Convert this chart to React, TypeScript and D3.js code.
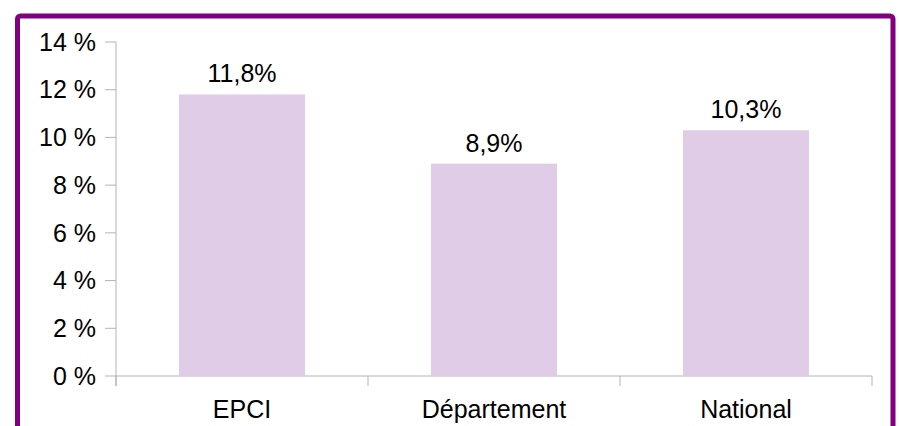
import * as d3 from "d3";
import { useEffect, useRef } from "react";

const categories = ["EPCI", "Département", "National"];
const values = [11.8, 8.9, 10.3];
const valueLabels = ["11,8%", "8,9%", "10,3%"];
const yTicks = [0, 2, 4, 6, 8, 10, 12, 14];

export default function App() {
    const ref = useRef<SVGSVGElement | null>(null);

    useEffect(() => {
        const width = 899;
        const height = 426;
        const margin = { top: 42, right: 27, bottom: 50, left: 116 };

        const svg = d3.select(ref.current);
        svg.selectAll("*").remove();

        // purple frame, open at the bottom (runs past the picture)
        svg.append("rect")
            .attr("x", 17.5)
            .attr("y", 16)
            .attr("width", 875.5)
            .attr("height", 440)
            .attr("rx", 3)
            .attr("fill", "white")
            .attr("stroke", "#800080")
            .attr("stroke-width", 5);

        const x = d3
            .scaleBand<string>()
            .domain(categories)
            .range([margin.left, width - margin.right])
            .paddingInner(0.5)
            .paddingOuter(0.25);
        const band = d3
            .scaleBand<string>()
            .domain(categories)
            .range([margin.left, width - margin.right]);
        const y = d3
            .scaleLinear()
            .domain([0, 14])
            .range([height - margin.bottom, margin.top]);

        const font = "'Liberation Sans', Arial, sans-serif";
        const fontSize = 25;
        const axisColor = "#b3b3b3";

        // y axis
        const gy = svg.append("g");
        gy.append("line")
            .attr("x1", margin.left)
            .attr("x2", margin.left)
            .attr("y1", y(14))
            .attr("y2", y(0) + 10)
            .attr("stroke", axisColor);
        gy.selectAll("line.tick")
            .data(yTicks)
            .join("line")
            .attr("class", "tick")
            .attr("x1", margin.left - 11)
            .attr("x2", margin.left)
            .attr("y1", (d) => y(d))
            .attr("y2", (d) => y(d))
            .attr("stroke", axisColor);
        gy.selectAll("text")
            .data(yTicks)
            .join("text")
            .attr("x", margin.left - 20)
            .attr("y", (d) => y(d))
            .attr("dy", "0.35em")
            .attr("text-anchor", "end")
            .attr("font-family", font)
            .attr("font-size", fontSize)
            .attr("fill", "#000")
            .text((d) => `${d} %`);

        // x axis
        const gx = svg.append("g");
        gx.append("line")
            .attr("x1", margin.left)
            .attr("x2", width - margin.right)
            .attr("y1", y(0))
            .attr("y2", y(0))
            .attr("stroke", axisColor);
        const edges = categories.map((c) => band(c) ?? 0).concat([width - margin.right]);
        gx.selectAll("line.tick")
            .data(edges)
            .join("line")
            .attr("class", "tick")
            .attr("x1", (d) => d)
            .attr("x2", (d) => d)
            .attr("y1", y(0))
            .attr("y2", y(0) + 10)
            .attr("stroke", axisColor);
        gx.selectAll("text")
            .data(categories)
            .join("text")
            .attr("x", (d) => (band(d) ?? 0) + band.bandwidth() / 2)
            .attr("y", 418)
            .attr("text-anchor", "middle")
            .attr("font-family", font)
            .attr("font-size", fontSize)
            .attr("fill", "#000")
            .text((d) => d);

        // bars
        svg.append("g")
            .selectAll("rect")
            .data(values)
            .join("rect")
            .attr("x", (d, i) => x(categories[i]) ?? 0)
            .attr("y", (d) => y(d))
            .attr("width", x.bandwidth())
            .attr("height", (d) => y(0) - y(d))
            .attr("fill", "#e0cce6");

        // value labels
        svg.append("g")
            .selectAll("text")
            .data(values)
            .join("text")
            .attr("x", (d, i) => (x(categories[i]) ?? 0) + x.bandwidth() / 2)
            .attr("y", (d) => y(d) - 12)
            .attr("text-anchor", "middle")
            .attr("font-family", font)
            .attr("font-size", fontSize)
            .attr("fill", "#000")
            .text((d, i) => valueLabels[i]);
    }, []);

    return (
        <svg
            ref={ref}
            width={899}
            height={426}
            style={{ position: "absolute", left: 0, top: 0, background: "white" }}
        />
    );
}
